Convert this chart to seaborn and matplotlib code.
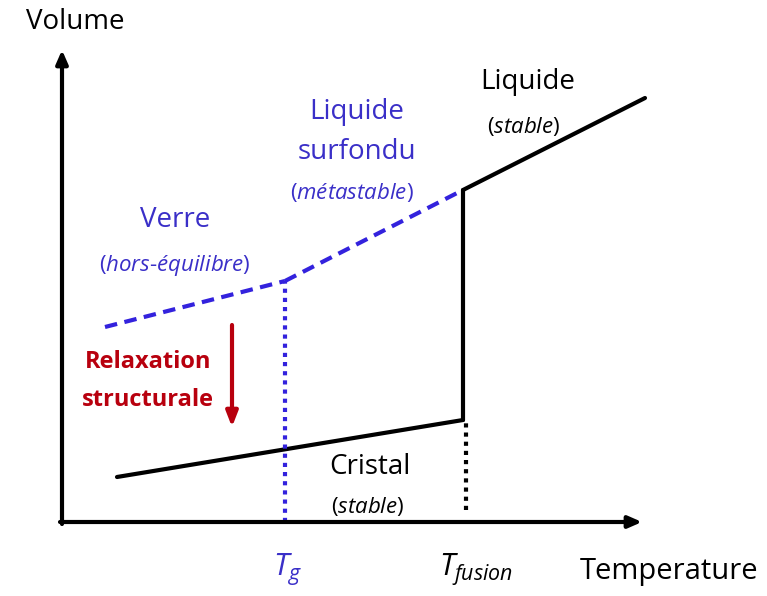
import matplotlib.pyplot as plt
import seaborn as sns

# schematic volume-temperature diagram (pixel-like units, origin at the axes corner)
glass_T = [43, 223]
glass_V = [195, 241]
supercooled_T = [223, 401]
supercooled_V = [241, 332]
liquid_T = [401, 583]
liquid_V = [332, 424]
jump_T = [401, 401]
jump_V = [332, 102]
crystal_T = [55, 401]
crystal_V = [45, 102]
tg_T = [223, 223]
tg_V = [0, 241]
tfus_T = [404, 404]
tfus_V = [12, 102]

BLUE = '#3322dd'
TXT_BLUE = '#3a2fc8'
RED = '#b8000e'

sns.set_style('white')
FONT = 'Open Sans'
plt.rcParams['font.family'] = [FONT, 'DejaVu Sans']
plt.rcParams['text.color'] = 'black'
plt.rcParams['mathtext.fontset'] = 'custom'
plt.rcParams['mathtext.rm'] = FONT
plt.rcParams['mathtext.it'] = FONT + ':italic'

fig = plt.figure(figsize=(7.67, 5.96), dpi=100)
ax = fig.add_axes([0, 0, 1, 1])
ax.set_xlim(-62, 705)
ax.set_ylim(-74, 522)
ax.axis('off')


def seg(x, y, color, ls='-'):
    sns.lineplot(x=x, y=y, color=color, lw=3, linestyle=ls, sort=False,
                 estimator=None, ax=ax)


DASH = (0, (3, 1.8))
DOT = (0, (1, 1.2))
seg(glass_T, glass_V, BLUE, DASH)
seg(supercooled_T, supercooled_V, BLUE, DASH)
seg(liquid_T, liquid_V, 'black')
seg(jump_T, jump_V, 'black')
seg(crystal_T, crystal_V, 'black')
seg(tg_T, tg_V, BLUE, DOT)
seg(tfus_T, tfus_V, 'black', DOT)

# axes arrows
ax.annotate('', xy=(580, 0), xytext=(-2, 0),
            arrowprops=dict(arrowstyle='-|>,head_length=0.8,head_width=0.35', lw=3, color='black',
                            shrinkA=0, shrinkB=0))
ax.annotate('', xy=(0, 472), xytext=(0, -2),
            arrowprops=dict(arrowstyle='-|>,head_length=0.8,head_width=0.35', lw=3, color='black',
                            shrinkA=0, shrinkB=0))
# relaxation arrow
ax.annotate('', xy=(170, 95), xytext=(170, 197),
            arrowprops=dict(arrowstyle='-|>,head_length=0.9,head_width=0.35', lw=3, color=RED,
                            shrinkA=0, shrinkB=0))

fs = 20
fi = 16
ax.text(13, 500, 'Volume', fontsize=fs, ha='center', va='center')
ax.text(607, -50, 'Temperature', fontsize=21, ha='center', va='center')
ax.text(225, -48, r'$T_g$', fontsize=22, color=TXT_BLUE, ha='center', va='center')
ax.text(414, -48, r'$T_{fusion}$', fontsize=22, color='black', ha='center', va='center')

ax.text(113, 302, 'Verre', fontsize=fs, color=TXT_BLUE, ha='center', va='center')
ax.text(113, 257, r'($\mathit{hors}$-$\mathit{équilibre}$)', fontsize=fi, color=TXT_BLUE,
        ha='center', va='center')
ax.text(295, 410, 'Liquide', fontsize=fs, color=TXT_BLUE, ha='center', va='center')
ax.text(295, 370, 'surfondu', fontsize=fs, color=TXT_BLUE, ha='center', va='center')
ax.text(290, 330, r'($\mathit{métastable}$)', fontsize=fi, color=TXT_BLUE, ha='center', va='center')
ax.text(466, 440, 'Liquide', fontsize=fs, ha='center', va='center')
ax.text(462, 396, r'($\mathit{stable}$)', fontsize=fi, ha='center', va='center')
ax.text(308, 55, 'Cristal', fontsize=fs, ha='center', va='center')
ax.text(306, 16, r'($\mathit{stable}$)', fontsize=fi, ha='center', va='center')
ax.text(86, 160, 'Relaxation', fontsize=17, color=RED, fontweight='bold', ha='center', va='center')
ax.text(86, 122, 'structurale', fontsize=17, color=RED, fontweight='bold', ha='center', va='center')

fig.savefig('out.png', dpi=100, facecolor='white')
